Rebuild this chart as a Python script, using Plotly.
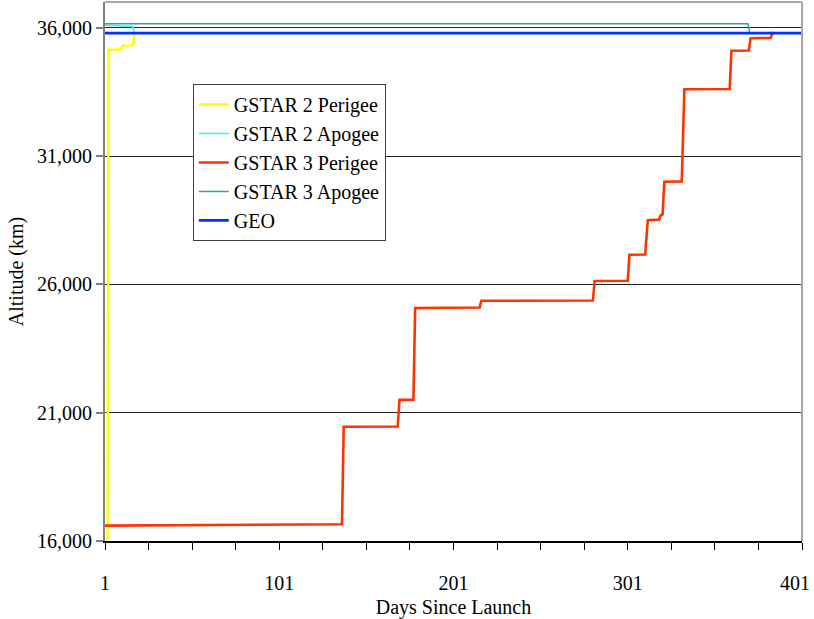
import plotly.graph_objects as go

# ---- data ----
g2_perigee_days = [1, 2, 3, 10, 11, 17, 18, 401]
g2_perigee_alt = [300, 300, 35140, 35150, 35300, 35310, 35786, 35786]

g2_apogee_days = [1, 6, 12, 17, 18, 401]
g2_apogee_alt = [36090, 36070, 36050, 36050, 35786, 35786]

g3_perigee_days = [1, 137, 138, 169, 170, 178, 179, 216, 217, 281, 282, 301, 302,
                   311, 312.5, 319, 320, 321, 322, 332, 333.5, 359.5, 360.5,
                   370.5, 371.5, 383, 384, 385]
g3_perigee_alt = [16600, 16650, 20450, 20460, 21500, 21505, 25080, 25100, 25360,
                  25370, 26130, 26140, 27150, 27160, 28500, 28520, 28700, 28720,
                  30000, 30010, 33600, 33610, 35100, 35110, 35590, 35600, 35786, 35786]

g3_apogee_days = [1, 370, 371, 385]
g3_apogee_alt = [36150, 36150, 35786, 35786]

geo_days = [1, 401]
geo_alt = [35786, 35786]

series_names = ["GSTAR 2 Perigee", "GSTAR 2 Apogee", "GSTAR 3 Perigee",
                "GSTAR 3 Apogee", "GEO"]

x_tick_vals = [1, 101, 201, 301, 401]
x_tick_text = ["1", "101", "201", "301", "401"]
y_tick_vals = [16000, 21000, 26000, 31000, 36000]

FONT = "Liberation Serif, Times New Roman, serif"

fig = go.Figure()

def add(days, alt, name, color, width, rank):
    fig.add_trace(go.Scatter(
        x=days, y=alt, mode="lines", name=name,
        line=dict(color=color, width=width),
        legendgroup=name, legendrank=rank, cliponaxis=True,
    ))

add(g2_apogee_days, g2_apogee_alt, series_names[1], "#33F5FF", 1.5, 2)
add(g3_apogee_days, g3_apogee_alt, series_names[3], "#33A3A3", 1.5, 4)
add(g2_perigee_days, g2_perigee_alt, series_names[0], "#FFFF00", 2.4, 1)
add(g3_perigee_days, g3_perigee_alt, series_names[2], "#FF3300", 2.6, 3)
add(geo_days, geo_alt, series_names[4], "#0033FF", 2.8, 5)

# the last tick label sits against the right edge; draw it as an annotation
# anchored on its right side so it stays inside the picture
tick_labels_shown = x_tick_text[:-1] + [""]

fig.update_layout(
    width=814, height=619,
    margin=dict(l=105, r=12, t=2, b=78),
    paper_bgcolor="white", plot_bgcolor="white",
    font=dict(family=FONT, size=20, color="black"),
    showlegend=True,
    legend=dict(
        x=0.126, y=0.848, xanchor="left", yanchor="top",
        bgcolor="white", bordercolor="#404040", borderwidth=1,
        font=dict(family=FONT, size=20, color="black"),
        tracegroupgap=0, itemwidth=30,
    ),
    xaxis=dict(
        range=[1, 401], tickmode="array", tickvals=x_tick_vals,
        ticktext=tick_labels_shown,
        ticks="outside", ticklen=7, tickcolor="black", tickwidth=1,
        minor=dict(dtick=25, tick0=1, ticks="outside", ticklen=7,
                   tickcolor="black", tickwidth=1, showgrid=False),
        showgrid=False, zeroline=False, automargin=False,
        showline=True, linecolor="black", linewidth=1.5,
        ticklabelstandoff=16,
        title=dict(text="Days Since Launch", standoff=12,
                   font=dict(family=FONT, size=20)),
    ),
    yaxis=dict(
        range=[16000, 37000], tickmode="array", tickvals=y_tick_vals,
        ticktext=[f"{v:,}" for v in y_tick_vals],
        ticks="outside", ticklen=7, tickcolor="#808080", tickwidth=1.5,
        showgrid=True, gridcolor="#222222", gridwidth=1,
        zeroline=False, automargin=False,
        showline=True, linecolor="#808080", linewidth=2,
        title=dict(text="Altitude (km)", standoff=8,
                   font=dict(family=FONT, size=20)),
    ),
    shapes=[
        dict(type="line", xref="paper", yref="paper", x0=0, x1=1, y0=1, y1=1,
             line=dict(color="#A8A8A8", width=2)),
        dict(type="line", xref="paper", yref="paper", x0=1, x1=1, y0=0, y1=1,
             line=dict(color="#A8A8A8", width=2)),
    ],
    annotations=[
        dict(text=x_tick_text[-1], x=x_tick_vals[-1], xref="x", y=0, yref="paper",
             xanchor="right", yanchor="middle", xshift=10, yshift=-42,
             showarrow=False, font=dict(family=FONT, size=20, color="black")),
    ],
)

fig.write_html("out.html",
               config={"displayModeBar": False},
               post_script="document.body.style.margin='0';document.body.style.overflow='hidden';")
